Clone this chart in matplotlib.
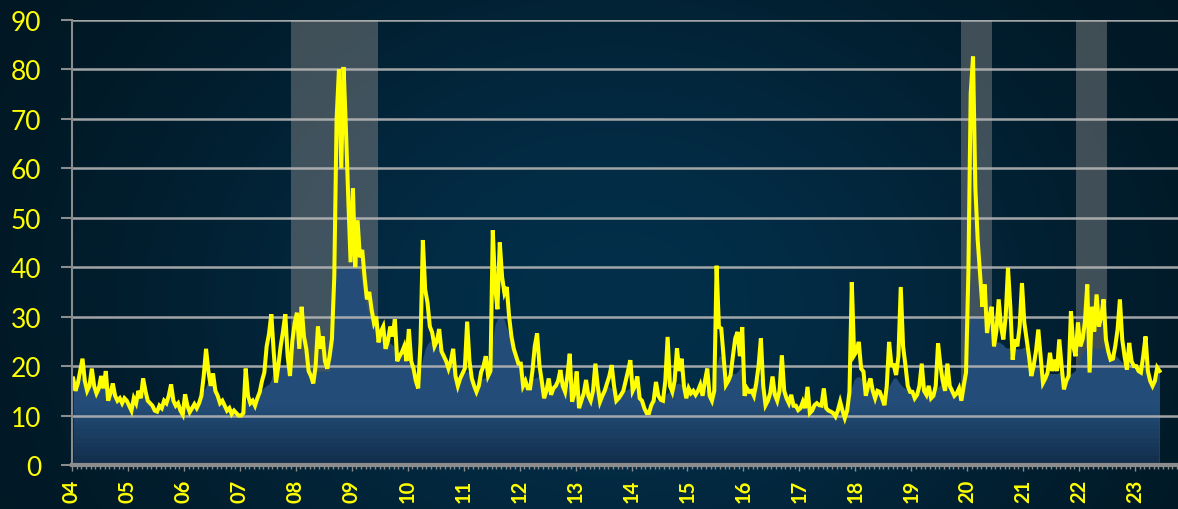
import numpy as np
import matplotlib
matplotlib.use('Agg')
import matplotlib.pyplot as plt
from matplotlib.ticker import MultipleLocator, FixedLocator

plt.rcParams['font.family'] = ['Lato', 'DejaVu Sans']

# serie semi-mensual (24 valores por año)
vix_2004 = [17.5, 15, 16.5, 19, 21.5, 17, 15, 16, 19.5, 16, 14.5, 15.5, 18, 15.5, 19, 13, 14.5, 16.5, 14, 13, 13.5, 12.5, 13.5, 13]
vix_2005 = [12, 11, 13.5, 12.5, 15, 13.5, 17.5, 15, 13, 12.5, 12, 11, 10.8, 12, 11.5, 13, 12.5, 14, 16.3, 13, 12, 12.5, 11, 10.2]
vix_2006 = [14.3, 12, 10.7, 11.5, 12.3, 11.5, 12.5, 14, 18, 23.5, 19, 16, 18.5, 15, 14, 12.5, 13, 12, 11, 11.5, 10.3, 11, 10.5, 10]
vix_2007 = [10, 10.5, 19.5, 14, 12.5, 13, 12, 13.5, 14.7, 17, 18.7, 24, 26.5, 30.5, 23, 16.7, 20, 24, 27, 30.5, 22, 18, 25, 28.7]
vix_2008 = [30.8, 23.5, 32, 26, 23.5, 19, 18, 16.5, 20, 28, 23.5, 26, 21, 19.5, 22, 25.5, 38, 70, 80, 60, 80.5, 68, 54, 41]
vix_2009 = [56, 40, 49.5, 42, 43.5, 38, 33.5, 35, 31.5, 28.8, 30, 24.8, 27, 28, 23.5, 25, 28, 26, 29.5, 21, 22, 22.8, 24, 21]
vix_2010 = [27.5, 21, 19.5, 17, 15.5, 24.8, 45.5, 35.5, 32.8, 28, 26.8, 24, 25, 27.5, 23, 22, 21, 19.5, 21, 23.5, 18, 16, 17.5, 18.5]
vix_2011 = [19.5, 29, 21, 17.5, 16, 14.8, 16, 18.8, 20, 22, 18, 19, 47.5, 36, 31.5, 45, 38, 34.8, 36, 30, 26, 23.5, 22, 20.5]
vix_2012 = [20.5, 16, 17, 15.5, 15.5, 19, 24, 26.6, 20.2, 17, 13.5, 15, 17.5, 14.2, 15.5, 16, 17, 19.2, 16, 14.8, 18, 22.5, 12.8, 14.5]
vix_2013 = [18.9, 11.5, 13, 14.5, 17.2, 14, 13, 15, 20.5, 16, 12.8, 14, 15, 16.5, 18, 20.2, 16, 13, 13.5, 14.2, 15, 17, 19, 21.2]
vix_2014 = [15, 16, 17.9, 13.5, 13, 11.5, 10.5, 10.5, 12.1, 13, 16.8, 14, 13.2, 13, 17, 25.9, 16, 14.8, 17, 23.6, 19, 21.5, 16, 13.5]
vix_2015 = [15.5, 14.5, 15, 14.2, 15, 16.2, 14, 17, 19.5, 14, 13, 15, 40.3, 27.9, 27.6, 22, 16.2, 17, 18.2, 22, 25.6, 26.9, 22, 27.9]
vix_2016 = [14, 15.5, 14.8, 15, 14, 16.5, 20, 25.6, 16, 12.1, 13, 14.5, 17.9, 14.2, 13, 15, 22.2, 15, 13.5, 12.5, 14.2, 12, 12, 11.1]
vix_2017 = [11.5, 12.8, 11.5, 15.8, 10.5, 11, 12.1, 12.5, 12.1, 12, 15.5, 11.5, 11, 10.8, 10.5, 9.8, 11, 12.8, 11, 9.5, 11, 14.8, 37, 22.2]
vix_2018 = [23, 24.9, 19.5, 18.9, 14, 16, 17.5, 15, 13.5, 15, 14.8, 13.5, 12.1, 16, 24.9, 20.2, 20.2, 18.2, 22, 36, 24, 20.2, 16, 14.8]
vix_2019 = [14.8, 13.5, 14.2, 16, 20.5, 15, 14.2, 16, 13.5, 14, 16, 24.6, 20.2, 17, 15, 20.5, 16, 15, 14, 14.5, 15.5, 13, 16, 18.7]
vix_2020 = [38.9, 75.2, 82.6, 56, 45.5, 38.9, 32, 36.5, 26.7, 30, 32, 24, 27, 33.5, 28, 25.4, 30, 39.9, 32, 21.3, 25.4, 24, 28, 36.8]
vix_2021 = [28.8, 25.4, 22, 18, 20, 23, 27.4, 22, 16.6, 17.5, 18.7, 22.7, 19, 21.3, 19, 25.4, 20, 15.3, 17, 18, 31.1, 24, 22, 28.8]
vix_2022 = [24, 25.4, 29, 36.5, 18.7, 32, 27, 34.5, 28, 30, 33.5, 25.4, 23, 21.3, 21.5, 24, 27.4, 33.5, 25.4, 22, 19.3, 24.7, 21, 20]
vix_2023 = [20, 19, 18.7, 22, 26, 19, 17, 16, 17, 19.7, 19]

# tope del area azul (mensual): en los picos el area se queda por debajo de la linea
cap_2004 = [17.5, 17.5, 18, 17.5, 17.5, 17, 16.5, 17, 16, 16, 15.5, 15]
cap_2005 = [14, 14, 14.5, 15, 15.5, 14.5, 13.5, 13.5, 14, 15, 14, 13]
cap_2006 = [13.5, 13, 13.5, 14, 15.5, 17.5, 17.5, 15, 14, 13.5, 13, 12.5]
cap_2007 = [12.5, 13, 15, 15, 15, 16, 16.5, 20, 20, 20, 20, 20]
cap_2008 = [20, 20, 20, 20, 19, 19, 19, 19, 40, 40, 40, 40]
cap_2009 = [40, 40, 35, 31, 28, 26, 25.5, 25, 24.5, 23.5, 22.5, 21.5]
cap_2010 = [20.5, 18.5, 18, 23, 25, 25, 24, 23.5, 22, 21, 19.5, 18.5]
cap_2011 = [19, 18.5, 17.5, 17.5, 17.5, 18.5, 28, 30, 30, 27, 24, 22.5]
cap_2012 = [19.5, 18.5, 17.5, 17.5, 18.5, 18.5, 17.5, 17, 17, 17, 16, 15.5]
cap_2013 = [15.5, 15.5, 15, 15.5, 15.5, 16.5, 16.5, 15.5, 15.5, 16, 15, 15.5]
cap_2014 = [15.5, 16, 15.5, 15, 14, 13, 13, 14.5, 15, 16.5, 16.5, 15.5]
cap_2015 = [16.5, 16.5, 16, 15.5, 15, 15, 22, 22, 19.5, 18.5, 18.5, 20]
cap_2016 = [16.5, 16.5, 16.5, 18, 15.5, 14.5, 15, 15, 15, 15.5, 14.5, 13.5]
cap_2017 = [13.5, 13.5, 13.5, 13.5, 13, 12.5, 12.5, 12, 12, 12, 12.5, 17]
cap_2018 = [18, 17.5, 16.5, 15.5, 15, 14.5, 14.5, 16.5, 18, 16.5, 15.5, 15.5]
cap_2019 = [16, 16, 16, 15.5, 16, 15.5, 16.5, 16.5, 16.5, 15.5, 15, 15.5]
cap_2020 = [30, 30, 30, 30, 28, 25, 25, 24.5, 23.5, 24, 23.5, 23.5]
cap_2021 = [24, 22.5, 20.5, 19.5, 19, 18.5, 18.5, 18.5, 19.5, 18.5, 18.5, 19.5]
cap_2022 = [22.5, 23.5, 24, 23.5, 23.5, 24, 23.5, 22.5, 21.5, 20.5, 20.5, 21.5]
cap_2023 = [20.5, 20.5, 19.5, 19.5, 18.5, 18.5]

# recesiones (sombreado gris)
rec_start = [2007.91, 2019.89, 2021.94]
rec_end = [2009.47, 2020.44, 2022.50]

years = list(range(2004, 2024))
year_labels = [str(y)[2:] for y in years]

vix = np.array(vix_2004 + vix_2005 + vix_2006 + vix_2007 + vix_2008 + vix_2009 + vix_2010
               + vix_2011 + vix_2012 + vix_2013 + vix_2014 + vix_2015 + vix_2016 + vix_2017
               + vix_2018 + vix_2019 + vix_2020 + vix_2021 + vix_2022 + vix_2023)
cap = np.array(cap_2004 + cap_2005 + cap_2006 + cap_2007 + cap_2008 + cap_2009 + cap_2010
               + cap_2011 + cap_2012 + cap_2013 + cap_2014 + cap_2015 + cap_2016 + cap_2017
               + cap_2018 + cap_2019 + cap_2020 + cap_2021 + cap_2022 + cap_2023)
x_vix = 2004 + (np.arange(len(vix)) + 0.5) / 24
x_cap = 2004 + (np.arange(len(cap)) + 0.5) / 12
blue = np.minimum(vix, np.interp(x_vix, x_cap, cap))

fig = plt.figure(figsize=(11.78, 5.10), dpi=100)

# fondo degradado
bg = fig.add_axes([0, 0, 1, 1], zorder=0)
yy, xx = np.mgrid[0:1:255j, 0:1:589j]
t = np.exp(-(((xx - 0.52) / 0.42) ** 2 + ((yy - 0.6) / 0.75) ** 2))
edge = np.array([1, 20, 30]) / 255
center = np.array([3, 47, 74]) / 255
bg.imshow(edge + t[..., None] * (center - edge), extent=[0, 1, 0, 1], aspect='auto', origin='upper')
bg.axis('off')

ax = fig.add_axes([72 / 1178, 1 - 466 / 510, 1 - 72 / 1178, 445 / 510], zorder=1)
ax.patch.set_alpha(0)

for s, e in zip(rec_start, rec_end):
    ax.axvspan(s, e, color='#8c8c8c', alpha=0.45, lw=0, zorder=1)

area = ax.fill_between(x_vix, 0, blue, color='#234d78', lw=0, zorder=2)
grad = np.linspace(0, 1, 100)[:, None]
shade = np.zeros((100, 1, 4))
shade[..., 0] = 0.02
shade[..., 1] = 0.09
shade[..., 2] = 0.16
shade[..., 3] = 0.55 * np.clip(1 - grad / 0.13, 0, 1)
im = ax.imshow(shade, extent=[2004, 2024, 0, 90], origin='lower', aspect='auto', zorder=2.1)
im.set_clip_path(area.get_paths()[0], transform=ax.transData)

ax.plot(x_vix, vix, color='#ffff00', lw=2.9, zorder=4, solid_joinstyle='miter')

ax.set_xlim(2004, 2004 + 1106 / 55.95)
ax.set_ylim(0, 90)
ax.set_yticks(range(0, 100, 10))
ax.yaxis.grid(True, color='#b4b4b4', lw=1.8, alpha=0.9, zorder=3)
ax.set_axisbelow(False)
for gl in ax.get_ygridlines():
    gl.set_zorder(3)

ax.xaxis.set_major_locator(FixedLocator(years))
ax.set_xticklabels(year_labels, rotation=90, fontsize=14.5, fontweight='bold', color='#ffff00')
ax.xaxis.set_minor_locator(MultipleLocator(1 / 12))
ax.tick_params(axis='x', which='major', length=4, width=1, color='#8c8c8c', pad=6)
ax.tick_params(axis='x', which='minor', length=3, width=1, color='#8c8c8c')
ax.tick_params(axis='y', length=8, width=1.5, color='#8c8c8c', labelcolor='#ffff00', labelsize=19, pad=14)

for side in ['top', 'right']:
    ax.spines[side].set_visible(False)
ax.spines['left'].set_color('#8c8c8c')
ax.spines['left'].set_linewidth(1.5)
ax.spines['left'].set_zorder(5)
ax.spines['bottom'].set_color('#8c8c8c')
ax.spines['bottom'].set_linewidth(3)
ax.spines['bottom'].set_zorder(5)

fig.savefig('out.png', dpi=100)
